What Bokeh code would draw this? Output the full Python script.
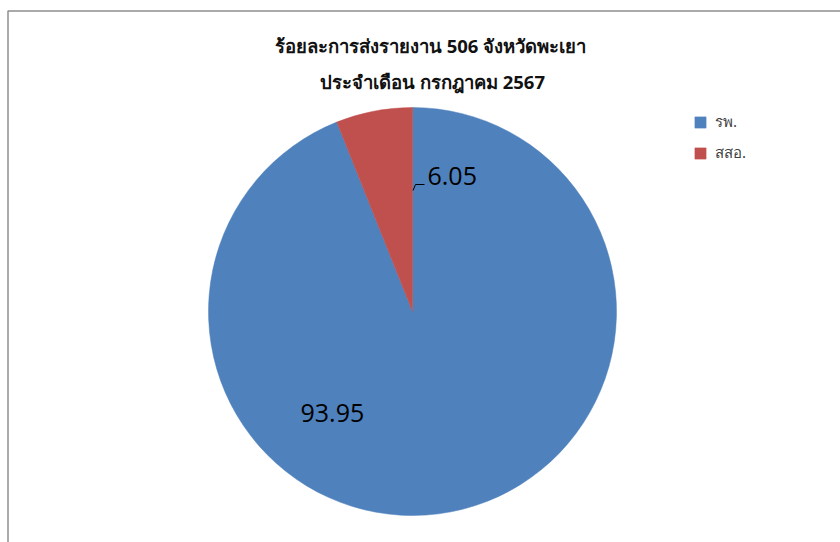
from bokeh.plotting import figure
from bokeh.models import Range1d, ColumnDataSource, Legend, LegendItem
from bokeh.core.properties import value
from bokeh.embed import file_html
from bokeh.resources import INLINE
import math

# ---- data ----
categories = ["รพ.", "สสอ."]
percentages = [93.95, 6.05]
colors = ["#4F81BD", "#C0504D"]
title_lines = ["ร้อยละการส่งรายงาน 506 จังหวัดพะเยา", "ประจำเดือน กรกฎาคม 2567"]

W, H = 840, 542
p = figure(width=W, height=H, output_backend="svg", toolbar_location=None,
           x_range=Range1d(0, W), y_range=Range1d(0, H),
           min_border=0)
p.axis.visible = False
p.grid.visible = False
p.outline_line_color = None
p.background_fill_color = "white"

def Y(page_y):
    return H - page_y

cx, cy, r = 412, Y(311), 204

# angles: slices go clockwise from 12 o'clock, first category first
total = sum(percentages)
starts, ends = [], []
acc = 0.0
for v in percentages:
    a0 = math.pi / 2 - 2 * math.pi * acc / total
    acc += v
    a1 = math.pi / 2 - 2 * math.pi * acc / total
    starts.append(a1)
    ends.append(a0)

renderers = []
for i in range(len(categories)):
    s = ColumnDataSource(dict(x=[cx], y=[cy], start=[starts[i]], end=[ends[i]]))
    rr = p.wedge(x="x", y="y", radius=r, radius_units="screen",
                 start_angle="start", end_angle="end", direction="anticlock",
                 fill_color=colors[i], line_color=colors[i], line_width=0.5, source=s)
    renderers.append(rr)

# data labels
fmt = ["%.2f" % v for v in percentages]
p.text(x=[300], y=[Y(412)], text=[fmt[0]], text_font=value("Open Sans"),
       text_font_size="25px", text_color="black", text_baseline="middle", text_align="left")
p.text(x=[427], y=[Y(175)], text=[fmt[1]], text_font=value("Open Sans"),
       text_font_size="25px", text_color="black", text_baseline="middle", text_align="left")
# leader line for small slice
p.line(x=[412.5, 415, 424], y=[Y(190), Y(184), Y(184)], line_color="black", line_width=1)

# title
p.text(x=[430, 432], y=[Y(45), Y(81)], text=title_lines, text_font=value("Noto Sans"),
       text_font_size="18.5px", text_font_style="bold", text_color="#111111",
       text_align="center", text_baseline="middle")

# chart border (left & top visible)
p.line(x=[7.5, 7.5, W], y=[0, Y(10.5), Y(10.5)], line_color="#8f8f8f", line_width=1.5)

legend = Legend(items=[LegendItem(label=categories[i], renderers=[renderers[i]]) for i in range(len(categories))],
                location=(693, 377), glyph_width=14, glyph_height=14, label_text_font_size="15px",
                label_text_font="Noto Sans", label_text_color="#404040",
                spacing=7, padding=10, border_line_color=None, background_fill_alpha=0,
                label_height=20, label_standoff=8)
p.add_layout(legend, "center")

open("out.html", "w").write(file_html(p, INLINE))
